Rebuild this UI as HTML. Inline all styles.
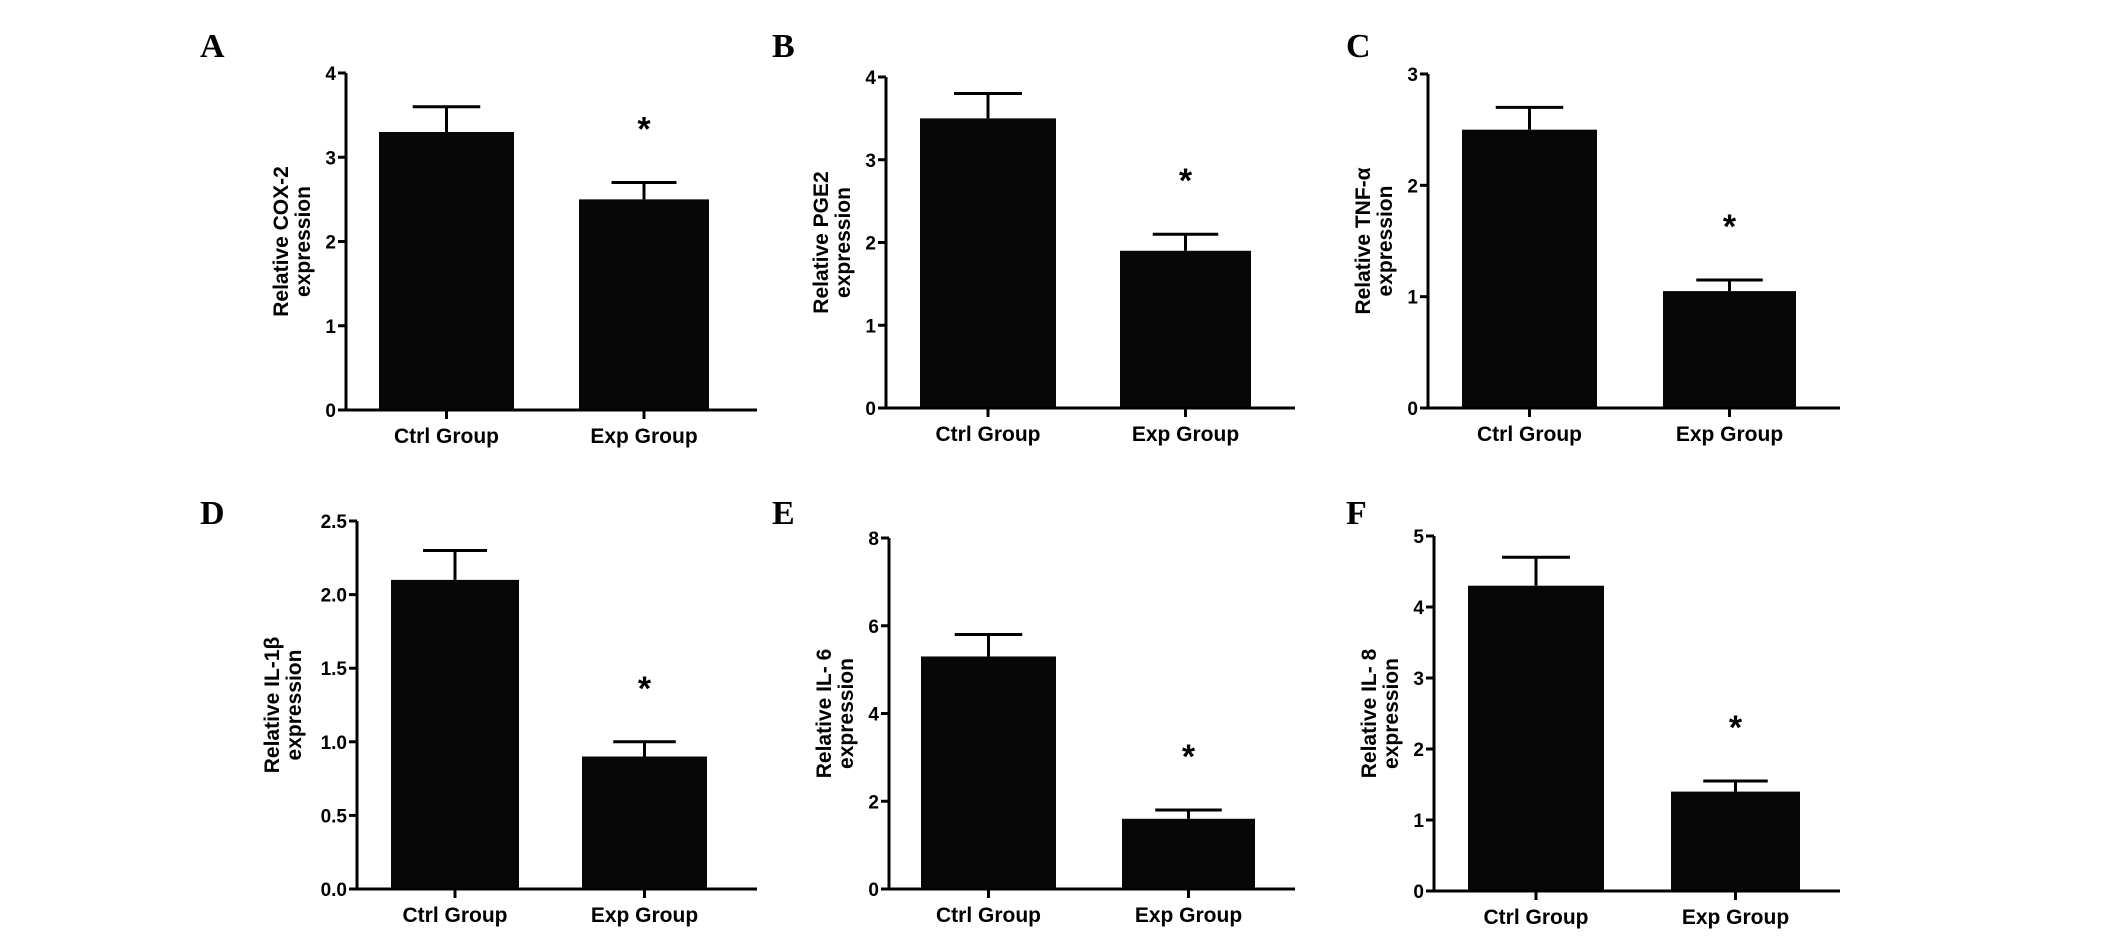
<!DOCTYPE html>
<html><head><meta charset="utf-8">
<style>
html,body{margin:0;padding:0;background:#fff;}
svg{display:block;}
text{font-family:"Liberation Sans",Arial,sans-serif;font-weight:bold;fill:#000;}
.pl{font-family:"Liberation Serif","Times New Roman",serif;font-size:34px;}
</style></head>
<body>
<svg id="fig" width="2126" height="937" viewBox="0 0 2126 937" xmlns="http://www.w3.org/2000/svg"></svg>
<script>
const categories = ["Ctrl Group","Exp Group"];
const panelLetters = ["A","B","C","D","E","F"];
const yTitles = ["Relative COX-2","Relative PGE2","Relative TNF-α","Relative IL-1β","Relative IL- 6","Relative IL- 8"];
const meansA = [3.3,2.5], errsA = [0.3,0.2];
const meansB = [3.5,1.9], errsB = [0.3,0.2];
const meansC = [2.5,1.05], errsC = [0.2,0.1];
const meansD = [2.1,0.9], errsD = [0.2,0.1];
const meansE = [5.3,1.6], errsE = [0.5,0.2];
const meansF = [4.3,1.4], errsF = [0.4,0.15];
const ticksA = ["0","1","2","3","4"];
const ticksB = ["0","1","2","3","4"];
const ticksC = ["0","1","2","3"];
const ticksD = ["0.0","0.5","1.0","1.5","2.0","2.5"];
const ticksE = ["0","2","4","6","8"];
const ticksF = ["0","1","2","3","4","5"];
const significant = [false,true];

const NS="http://www.w3.org/2000/svg";
const svg=document.getElementById('fig');
function mk(tag,attrs,parent){const e=document.createElementNS(NS,tag);for(const k in attrs)e.setAttribute(k,attrs[k]);(parent||svg).appendChild(e);return e;}

const layouts=[
 {ax:346,top:73,bot:410,end:757,bars:[[379,514],[579,709]],lx:200,ly:57,to:58},
 {ax:886,top:77,bot:408,end:1295,bars:[[920,1056],[1120,1251]],lx:772,ly:57,to:58},
 {ax:1428,top:74,bot:408,end:1840,bars:[[1462,1597],[1663,1796]],lx:1346,ly:57,to:58},
 {ax:357,top:521,bot:889,end:757,bars:[[391,519],[582,707]],lx:200,ly:524,to:78},
 {ax:889,top:538,bot:889,end:1295,bars:[[921,1056],[1122,1255]],lx:772,ly:524,to:58},
 {ax:1434,top:536,bot:891,end:1840,bars:[[1468,1604],[1671,1800]],lx:1346,ly:524,to:58}
];
const allMeans=[meansA,meansB,meansC,meansD,meansE,meansF];
const allErrs=[errsA,errsB,errsC,errsD,errsE,errsF];
const allTicks=[ticksA,ticksB,ticksC,ticksD,ticksE,ticksF];

layouts.forEach((L,p)=>{
  const g=mk('g',{});
  
  
  const ticks=allTicks[p];
  const tmin=parseFloat(ticks[0]), tmax=parseFloat(ticks[ticks.length-1]);
  const y=v=>L.bot-(v-tmin)/(tmax-tmin)*(L.bot-L.top);
  const lab=mk('text',{x:L.lx,y:L.ly,class:'pl'},g);lab.textContent=panelLetters[p];
  
  
  const means=allMeans[p], errs=allErrs[p];
  categories.forEach((c,i)=>{
    const [x0,x1]=L.bars[i]; const cx=(x0+x1)/2;
    const top=y(means[i]+errs[i]);
    const el=mk('line',{x1:cx,x2:cx,y1:y(means[i]),y2:top,stroke:'#000','stroke-width':3},g);
    
    
    const cap=mk('line',{x1:cx-(x1-x0)/4,x2:cx+(x1-x0)/4,y1:top,y2:top,stroke:'#000','stroke-width':3},g);
    
    
    const r=mk('rect',{x:x0,y:y(means[i]),width:x1-x0,height:y(0)-y(means[i]),fill:'#070707'},g);
    
    
    if(significant[i]){
      const s=mk('text',{x:cx,y:top-42,'text-anchor':'middle','font-size':'34'},g);s.textContent='*';
      
      
    }
    const tk=mk('line',{x1:cx,x2:cx,y1:L.bot,y2:L.bot+9,stroke:'#000','stroke-width':3},g);
    
    
    const tl=mk('text',{x:cx,y:L.bot+33,'text-anchor':'middle','font-size':'21'},g);tl.textContent=c;
    
    
  });
  const ya=mk('line',{x1:L.ax,x2:L.ax,y1:L.top,y2:L.bot+1.5,stroke:'#000','stroke-width':3},g);
  
  
  const xa=mk('line',{x1:L.ax-1.5,x2:L.end,y1:L.bot,y2:L.bot,stroke:'#000','stroke-width':3},g);
  
  
  ticks.forEach(t=>{
    const v=parseFloat(t), yy=y(v);
    const tk=mk('line',{x1:L.ax-8,x2:L.ax,y1:yy,y2:yy,stroke:'#000','stroke-width':3},g);
    
    
    const tl=mk('text',{x:L.ax-10,y:yy+7,'text-anchor':'end','font-size':'19'},g);tl.textContent=t;
    
    
  });
  const mid=(L.top+L.bot)/2;
  const tt=mk('text',{transform:`translate(${L.ax-L.to},${mid}) rotate(-90)`,'text-anchor':'middle','font-size':'21'},g);
  
  
  const s1=mk('tspan',{x:0,y:0},tt);s1.textContent=yTitles[p];
  const s2=mk('tspan',{x:0,y:22},tt);s2.textContent='expression';
});
</script>
</body></html>
